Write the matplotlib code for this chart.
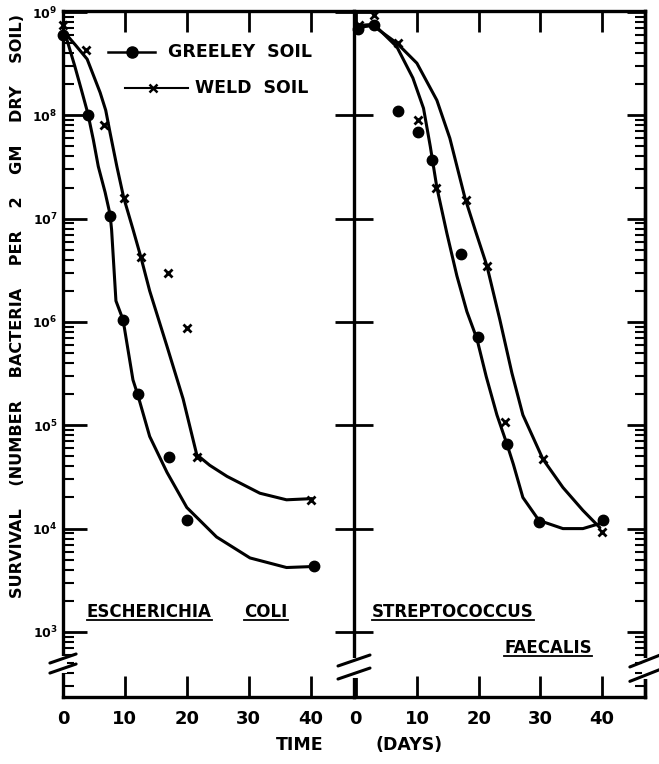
import math
import matplotlib
matplotlib.use("Agg")
import matplotlib.pyplot as plt
from matplotlib.ticker import LogLocator, FixedLocator, NullLocator, NullFormatter, FuncFormatter
from matplotlib.lines import Line2D

# ---- measured points (days, bacteria per 2 gm dry soil) ----
ecoli_greeley_days = [0, 4, 7.6, 9.7, 12.1, 17.1, 20.1, 40.6]
ecoli_greeley_vals = [6e8, 1e8, 1.07e7, 1.05e6, 2e5, 4.9e4, 1.2e4, 4.3e3]
ecoli_weld_days = [0, 3.7, 6.6, 9.8, 12.6, 16.9, 20, 21.6, 40]
ecoli_weld_vals = [7.5e8, 4.3e8, 8e7, 1.6e7, 4.3e6, 3e6, 8.8e5, 4.9e4, 1.9e4]

strep_greeley_days = [0.3, 2.9, 6.8, 10.1, 12.4, 17.1, 19.8, 24.5, 29.8, 40.2]
strep_greeley_vals = [6.9e8, 7.5e8, 1.1e8, 6.9e7, 3.7e7, 4.5e6, 7.1e5, 6.6e4, 1.15e4, 1.2e4]
strep_weld_days = [0.5, 2.9, 6.8, 10.1, 13, 17.9, 21.3, 24.2, 30.4, 40]
strep_weld_vals = [7.5e8, 9.3e8, 5e8, 9e7, 2e7, 1.5e7, 3.5e6, 1.07e5, 4.7e4, 9.3e3]

# ---- hand drawn fitted curves ----
ecoli_greeley_curve_days = [0.3, 1.9, 3.0, 4.0, 4.9, 5.7, 6.8, 7.6, 7.85, 8.55, 9.7, 11.3, 12.1, 14.0,
                            16.8, 20.0, 24.8, 30.2, 36.1, 40.6]
ecoli_greeley_curve_vals = [6.3e8, 3.0e8, 1.74e8, 1.05e8, 5.8e7, 3.2e7, 1.8e7, 1.1e7, 7.8e6, 1.6e6,
                            1.05e6, 2.75e5, 1.95e5, 7.8e4, 3.5e4, 1.6e4, 8.3e3, 5.2e3, 4.2e3, 4.3e3]
ecoli_weld_curve_days = [0.3, 2.0, 3.9, 6.0, 6.9, 7.6, 8.7, 9.8, 11.3, 12.6, 14.0, 16.8, 19.4, 21.6,
                         23.7, 26.5, 31.8, 36.1, 40.2]
ecoli_weld_curve_vals = [6.3e8, 4.8e8, 3.5e8, 1.66e8, 1.12e8, 6.8e7, 3.2e7, 1.6e7, 7.9e6, 4.2e6,
                         2.0e6, 5.8e5, 1.8e5, 5.2e4, 4.1e4, 3.2e4, 2.2e4, 1.9e4, 1.95e4]

strep_greeley_curve_days = [0.33, 2.93, 6.67, 9.27, 11.0, 12.1, 13.17, 14.8, 16.42, 18.05, 19.67, 21.2,
                            22.93, 24.55, 25.6, 27.15, 29.76, 33.66, 36.91, 39.67]
strep_greeley_curve_vals = [7.4e8, 7.6e8, 4.6e8, 2.3e8, 1.17e8, 5.0e7, 2.0e7, 7.2e6, 2.8e6, 1.26e6,
                            6.9e5, 2.95e5, 1.26e5, 6.6e4, 4.2e4, 2.0e4, 1.2e4, 1.0e4, 1.0e4, 1.12e4]
strep_weld_curve_days = [0.33, 2.76, 6.67, 9.92, 13.17, 15.28, 17.72, 19.51, 21.3, 23.41, 25.37,
                         27.15, 30.41, 33.66, 36.91, 39.67]
strep_weld_curve_vals = [7.1e8, 7.4e8, 5.0e8, 3.2e8, 1.4e8, 6.0e7, 1.6e7, 7.4e6, 3.5e6, 1.05e6,
                         3.2e5, 1.26e5, 4.7e4, 2.5e4, 1.5e4, 1.02e4]

x_ticks = [0, 10, 20, 30, 40]
decades = [1e3, 1e4, 1e5, 1e6, 1e7, 1e8, 1e9]

plt.rcParams['font.family'] = ['DejaVu Sans']
plt.rcParams['font.weight'] = 'bold'

fig = plt.figure(figsize=(6.59, 7.64), dpi=100)
ax1 = fig.add_axes([63 / 659, 67 / 764, 291 / 659, 686 / 764])
ax2 = fig.add_axes([354 / 659, 67 / 764, 291 / 659, 686 / 764])

ylo, yhi = 10 ** 2.37, 10 ** 9.01
lw_spine = 2.4

for ax, xlim in ((ax1, (0, 47)), (ax2, (-0.3, 47))):
    ax.set_yscale('log')
    ax.set_ylim(ylo, yhi)
    ax.set_xlim(*xlim)
    ax.set_xticks(x_ticks)
    ax.set_xticklabels([str(t) for t in x_ticks])
    ax.tick_params(axis='x', which='both', direction='in', top=True, bottom=True,
                   length=15, width=2, labelsize=13, pad=9)
    for s in ax.spines.values():
        s.set_linewidth(lw_spine)

ax1.spines['right'].set_visible(False)

# left panel y axis: labelled decades, minor ticks inside
ax1.yaxis.set_major_locator(FixedLocator(decades))
ax1.yaxis.set_minor_locator(LogLocator(base=10, subs=range(2, 10), numticks=20))
ax1.yaxis.set_major_formatter(FuncFormatter(lambda v, p: r'$\mathbf{10^{%d}}$' % round(math.log10(v))))
ax1.yaxis.set_minor_formatter(NullFormatter())
ax1.tick_params(axis='y', which='major', direction='in', length=17, width=2, labelsize=9, pad=4, right=False)
ax1.tick_params(axis='y', which='minor', direction='in', length=8, width=1.5, right=False)

# middle line: major ticks crossing both sides
ax2.yaxis.set_major_locator(FixedLocator(decades))
ax2.yaxis.set_minor_locator(NullLocator())
ax2.yaxis.set_major_formatter(NullFormatter())
ax2.tick_params(axis='y', which='major', direction='inout', length=27, width=2, labelleft=False, right=False)

# right spine ticks
ax2r = ax2.twinx()
ax2r.set_yscale('log')
ax2r.set_ylim(ylo, yhi)
ax2r.yaxis.set_major_locator(FixedLocator(decades))
ax2r.yaxis.set_minor_locator(LogLocator(base=10, subs=range(2, 10), numticks=20))
ax2r.yaxis.set_major_formatter(NullFormatter())
ax2r.yaxis.set_minor_formatter(NullFormatter())
ax2r.tick_params(axis='y', which='major', direction='in', length=13, width=2)
ax2r.tick_params(axis='y', which='minor', direction='in', length=7, width=1.5)
for k in ('left', 'top', 'bottom'):
    ax2r.spines[k].set_visible(False)
ax2r.spines['right'].set_linewidth(lw_spine)

curve_kw = dict(color='black', lw=2.2, solid_capstyle='round', solid_joinstyle='round', zorder=3)
dot_kw = dict(ls='none', marker='o', color='black', ms=7.5, zorder=4, clip_on=False)
x_kw = dict(ls='none', marker='x', color='black', ms=6, mew=2, zorder=4, clip_on=False)

ax1.plot(ecoli_greeley_curve_days, ecoli_greeley_curve_vals, **curve_kw)
ax1.plot(ecoli_weld_curve_days, ecoli_weld_curve_vals, **curve_kw)
ax1.plot(ecoli_greeley_days, ecoli_greeley_vals, **dot_kw)
ax1.plot(ecoli_weld_days, ecoli_weld_vals, **x_kw)

ax2.plot(strep_greeley_curve_days, strep_greeley_curve_vals, **curve_kw)
ax2.plot(strep_weld_curve_days, strep_weld_curve_vals, **curve_kw)
ax2.plot(strep_greeley_days, strep_greeley_vals, **dot_kw)
ax2.plot(strep_weld_days, strep_weld_vals, **x_kw)

# legend drawn by hand inside left panel
ax1.plot([0.155, 0.237, 0.316], [0.940] * 3, transform=ax1.transAxes, color='black', lw=1.8,
         marker='o', ms=8, markevery=[1], clip_on=False)
ax1.text(0.361, 0.940, 'GREELEY  SOIL', transform=ax1.transAxes, fontsize=12.5, va='center', ha='left')
ax1.plot([0.213, 0.309, 0.430], [0.888] * 3, transform=ax1.transAxes, color='black', lw=1.5,
         marker='x', ms=6, mew=1.8, markevery=[1], clip_on=False)
ax1.text(0.454, 0.888, 'WELD  SOIL', transform=ax1.transAxes, fontsize=12.5, va='center', ha='left')

# organism names (underlined)
names = [
    ax1.text(0.296, 0.124, 'ESCHERICHIA', transform=ax1.transAxes, fontsize=12, ha='center', va='center'),
    ax1.text(0.698, 0.124, 'COLI', transform=ax1.transAxes, fontsize=12, ha='center', va='center'),
    ax2.text(0.340, 0.124, 'STREPTOCOCCUS', transform=ax2.transAxes, fontsize=12, ha='center', va='center'),
    ax2.text(0.667, 0.0714, 'FAECALIS', transform=ax2.transAxes, fontsize=12, ha='center', va='center'),
]

fig.text(18 / 659, 1 - 306 / 764, 'SURVIVAL    (NUMBER    BACTERIA    PER    2    GM    DRY    SOIL)',
         rotation=90, ha='center', va='center', fontsize=11.6)
fig.text(300 / 659, 1 - 745 / 764, 'TIME', ha='center', va='center', fontsize=12.5)
fig.text(409 / 659, 1 - 745 / 764, '(DAYS)', ha='center', va='center', fontsize=12.5)


def break_mark(ax, xc, yc, hw, hh, gap):
    # white gap in the spine, then two slanted strokes
    ax.plot([xc, xc], [yc - gap / 2, yc + gap / 2], transform=ax.transAxes, color='white',
            lw=5, clip_on=False, zorder=5)
    for dy in (-gap / 2, gap / 2):
        ax.plot([xc - hw, xc + hw], [yc + dy - hh, yc + dy + hh], transform=ax.transAxes,
                color='black', lw=2.2, solid_capstyle='round', clip_on=False, zorder=6)


break_mark(ax1, 0.0, 0.0488, 0.045, 0.0066, 0.0146)
break_mark(ax2, 0.0, 0.0437, 0.055, 0.0080, 0.0190)
break_mark(ax2r, 1.0, 0.0420, 0.052, 0.0087, 0.0210)

fig.canvas.draw()
renderer = fig.canvas.get_renderer()
inv = fig.transFigure.inverted()
for t in names:
    bb = t.get_window_extent(renderer)
    (x0, y0), (x1, _) = inv.transform([(bb.x0, bb.y0), (bb.x1, bb.y1)])
    fig.add_artist(Line2D([x0, x1], [y0 + 0.001, y0 + 0.001], color='black', lw=1.3))

fig.savefig('out.png', dpi=100, facecolor='white')
